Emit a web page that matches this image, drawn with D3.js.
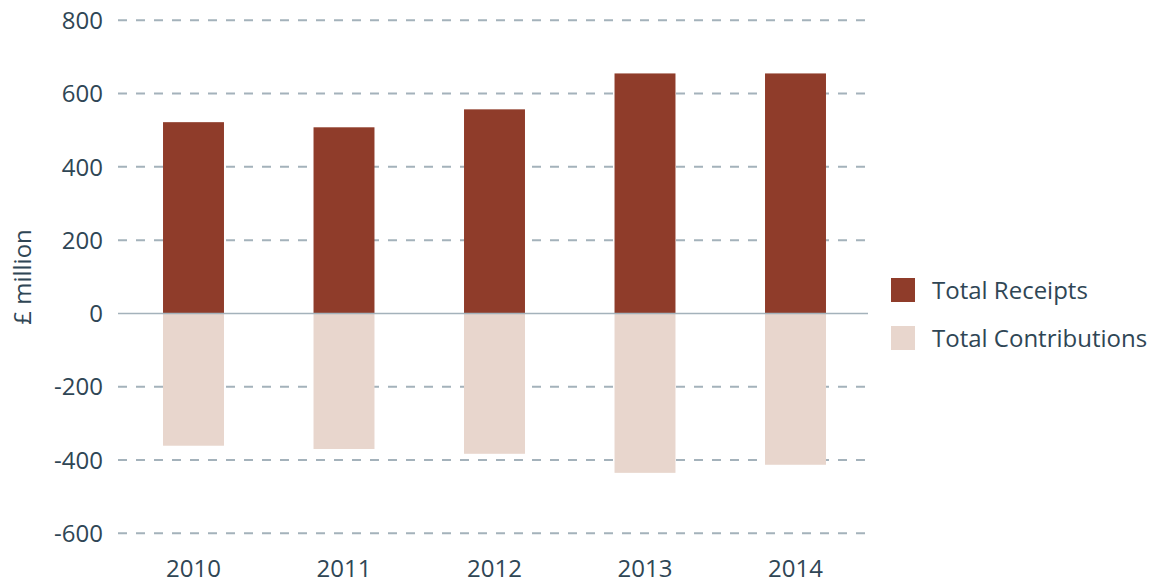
<!DOCTYPE html>
<html>
<head>
<meta charset="utf-8">
<script src="https://cdn.jsdelivr.net/npm/d3@7"></script>
<style>
  html, body { margin: 0; padding: 0; background: #fff; }
  svg { display: block; font-family: 'Open Sans', Lato, sans-serif; }
</style>
</head>
<body>
<svg id="chart" width="1171" height="585"></svg>
<script>
  // data
  const years = ['2010', '2011', '2012', '2013', '2014'];
  const receipts = [522, 508, 557, 655, 655];
  const contributions = [-361, -370, -383, -435, -413];
  const yTicks = [-600, -400, -200, 0, 200, 400, 600, 800];
  const seriesNames = ['Total Receipts', 'Total Contributions'];

  const svg = d3.select('#chart');
  const textColor = '#2f4655';
  const gridColor = '#a4b2bb';
  const colors = ['#8f3c2a', '#e8d6cd'];

  const x = d3.scaleBand().domain(years).range([118.25, 870.75]).paddingInner(0.595).paddingOuter(0.2975);
  const y = d3.scaleLinear().domain([-600, 800]).range([533.3, 20.3]);

  // gridlines
  svg.append('g')
    .selectAll('line')
    .data(yTicks.filter((d) => d !== 0))
    .join('line')
    .attr('x1', 118).attr('x2', 868)
    .attr('y1', (d) => y(d)).attr('y2', (d) => y(d))
    .attr('stroke', gridColor)
    .attr('stroke-width', 2)
    .attr('stroke-dasharray', '9,9');

  // bars
  svg.append('g')
    .selectAll('rect')
    .data(years.map((yr, i) => ({ yr, v: receipts[i] })))
    .join('rect')
    .attr('x', (d) => x(d.yr))
    .attr('width', x.bandwidth())
    .attr('y', (d) => y(d.v))
    .attr('height', (d) => y(0) - y(d.v))
    .attr('fill', colors[0]);

  svg.append('g')
    .selectAll('rect')
    .data(years.map((yr, i) => ({ yr, v: contributions[i] })))
    .join('rect')
    .attr('x', (d) => x(d.yr))
    .attr('width', x.bandwidth())
    .attr('y', y(0))
    .attr('height', (d) => y(d.v) - y(0))
    .attr('fill', colors[1]);

  // zero line
  svg.append('line')
    .attr('x1', 118).attr('x2', 868)
    .attr('y1', y(0)).attr('y2', y(0))
    .attr('stroke', gridColor)
    .attr('stroke-width', 1.5);

  // y tick labels
  svg.append('g')
    .selectAll('text')
    .data(yTicks)
    .join('text')
    .attr('x', 103)
    .attr('y', (d) => y(d))
    .attr('dy', '0.36em')
    .attr('text-anchor', 'end')
    .attr('font-size', 24)
    .attr('fill', textColor)
    .text((d) => String(d));

  // x labels
  svg.append('g')
    .selectAll('text')
    .data(years)
    .join('text')
    .attr('x', (d) => x(d) + x.bandwidth() / 2)
    .attr('y', 577)
    .attr('text-anchor', 'middle')
    .attr('font-size', 24)
    .attr('fill', textColor)
    .text((d) => d);

  // y axis title
  svg.append('text')
    .attr('transform', 'translate(31,277) rotate(-90)')
    .attr('text-anchor', 'middle')
    .attr('font-size', 24)
    .attr('fill', textColor)
    .text('£ million');

  // legend
  const legend = svg.append('g')
    .selectAll('g')
    .data(seriesNames)
    .join('g')
    .attr('transform', (d, i) => `translate(891,${278 + i * 48})`);
  legend.append('rect')
    .attr('width', 24).attr('height', 24)
    .attr('fill', (d, i) => colors[i]);
  legend.append('text')
    .attr('x', 41).attr('y', 12)
    .attr('dy', '0.36em')
    .attr('font-size', 24)
    .attr('fill', textColor)
    .text((d) => d);
</script>
</body>
</html>
